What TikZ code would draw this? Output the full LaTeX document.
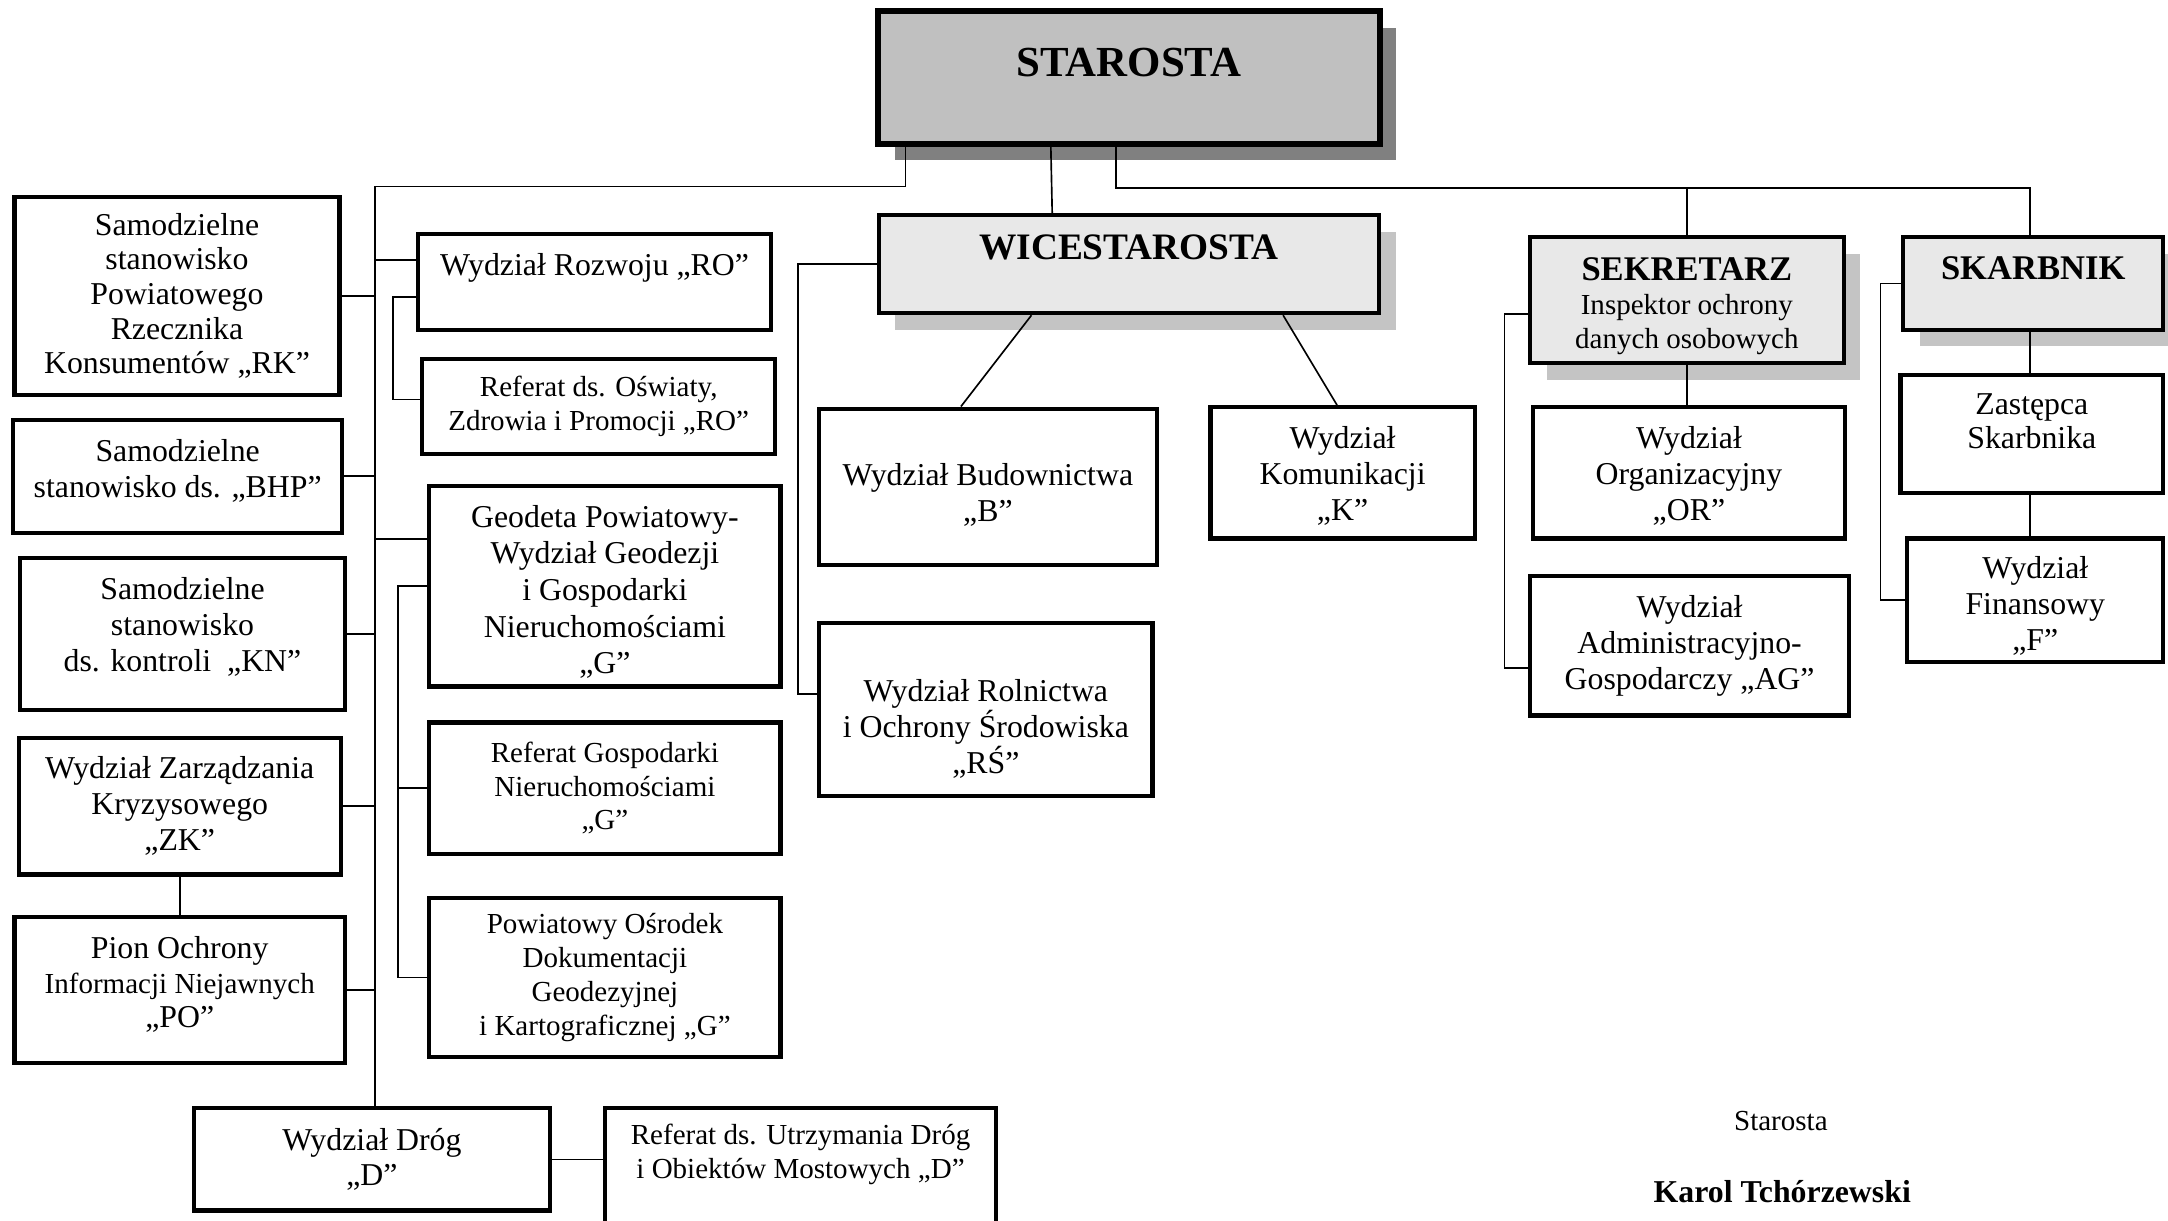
\documentclass[tikz,border=0pt]{standalone}
\usepackage{fontspec}
\setmainfont{Liberation Serif}
\usetikzlibrary{calc, shadows}
\definecolor{topgray}{HTML}{C0C0C0}
\definecolor{boxgray}{HTML}{E8E8E8}
\definecolor{shadowdark}{HTML}{808080}
\definecolor{shadowlight}{HTML}{C4C4C4}
\tikzset{
  unit/.style={draw, line width=3pt, inner sep=0pt, align=center,
    font=\fontsize{23}{26}\selectfont},
  small/.style={font=\fontsize{21}{24.5}\selectfont},
  head/.style={unit, fill=boxgray},
  darkshadow/.style={drop shadow={shadow xshift=12pt, shadow yshift=-12pt,
    fill=shadowdark, opacity=1}},
  lightshadow/.style={drop shadow={shadow xshift=12pt, shadow yshift=-12pt,
    fill=shadowlight, opacity=1}},
  wh/.style 2 args={minimum width=#1pt, minimum height=#2pt},
  link/.style={line width=1.2pt}
}

\begin{document}
\begin{tikzpicture}[x=1pt, y=-1pt]
  \useasboundingbox (0,0) rectangle (1568,883);

  \node[head, fill=topgray, line width=4pt, darkshadow, wh={363}{96},
    font=\fontsize{31}{34}\selectfont\bfseries, text height=20.5pt, text depth=22pt]
    (st) at (816.5,56) {STAROSTA};
  \node[head, lightshadow, wh={362}{71},
    font=\fontsize{27}{30}\selectfont\bfseries, text height=18pt, text depth=24pt]
    (wice) at (816.5,191) {WICESTAROSTA};
  \node[head, small, lightshadow, wh={227}{91}] (sek) at (1220,217)
    {\rule{0pt}{25.5pt}{\fontsize{25}{27}\selectfont\bfseries SEKRETARZ}\\
     Inspektor ochrony\\danych osobowych};
  \node[head, lightshadow, wh={188}{67},
    font=\fontsize{25}{28}\selectfont\bfseries, text height=16.5pt, text depth=22pt]
    (skarb) at (1470.5,205) {SKARBNIK};

  \node[unit, wh={235}{143}, font=\fontsize{23}{25}\selectfont] (rk) at (128,214)
    {Samodzielne\\stanowisko\\Powiatowego\\Rzecznika\\Konsumentów „RK”};
  \node[unit, wh={238}{82}] (bhp) at (128.5,344.5)
    {Samodzielne\\stanowisko ds. „BHP”\rule[-11pt]{0pt}{0pt}};
  \node[unit, wh={235}{110}] (kn) at (132,458.5)
    {Samodzielne\\stanowisko\\ds. kontroli\ \ „KN”\rule[-14pt]{0pt}{0pt}};
  \node[unit, wh={233}{99}] (zk) at (130,583) {Wydział Zarządzania\\Kryzysowego\\„ZK”};
  \node[unit, wh={239}{105}, font=\fontsize{23}{25}\selectfont] (po) at (130,716)
    {Pion Ochrony\\{\fontsize{21}{25}\selectfont Informacji Niejawnych}\\
     „PO”\rule[-11pt]{0pt}{0pt}};

  \node[unit, wh={255}{69}, text height=15pt, text depth=24pt] (ro) at (430,204)
    {Wydział Rozwoju „RO”};
  \node[unit, small, wh={255}{69}] (osw) at (433,294)
    {Referat ds. Oświaty,\\Zdrowia i Promocji „RO”};
  \node[unit, wh={254}{145}, font=\fontsize{23}{26.5}\selectfont] (geo) at (437.5,424)
    {\rule{0pt}{24pt}Geodeta Powiatowy-\\Wydział Geodezji\\i Gospodarki\\
     Nieruchomościami\\„G”};
  \node[unit, small, wh={254}{95}] (rgn) at (437.5,570)
    {Referat Gospodarki\\Nieruchomościami\\„G”};
  \node[unit, small, wh={254}{115}] (podgik) at (437.5,707)
    {Powiatowy Ośrodek\\Dokumentacji\\Geodezyjnej\\i Kartograficznej „G”};
  \node[unit, wh={257}{74}] (drog) at (269,838.5) {Wydział Dróg\\„D”};
  \node[unit, small, wh={283}{89}] (rud) at (579,846)
    {Referat ds. Utrzymania Dróg\\i Obiektów Mostowych „D”\rule[-27pt]{0pt}{0pt}};

  \node[unit, wh={244}{113}] (bud) at (714.5,352)
    {\rule{0pt}{28pt}Wydział Budownictwa\\„B”};
  \node[unit, wh={241}{125}] (rol) at (713,513)
    {\strut\\Wydział Rolnictwa\\i Ochrony Środowiska\\„RŚ”};
  \node[unit, wh={191}{95}] (kom) at (971,342)
    {\rule{0pt}{21pt}Wydział\\Komunikacji\\„K”};
  \node[unit, wh={226}{95}] (org) at (1221.5,342)
    {\rule{0pt}{21pt}Wydział\\Organizacyjny\\„OR”};
  \node[unit, wh={231}{101}] (ag) at (1222,467)
    {Wydział\\Administracyjno-\\Gospodarczy „AG”};
  \node[unit, wh={190}{85}, font=\fontsize{23}{25}\selectfont] (zast) at (1469.5,314)
    {Zastępca\\Skarbnika\rule[-19pt]{0pt}{0pt}};
  \node[unit, wh={185}{89}] (fin) at (1472,434)
    {\rule{0pt}{25pt}Wydział\\Finansowy\\„F”};

  \node[font=\fontsize{21}{24}\selectfont] (sig) at (1288,811) {Starosta};
  \node[font=\fontsize{23}{26}\selectfont\bfseries] (sname) at (1289,862)
    {Karol Tchórzewski};

  \coordinate (trk) at (271,135);
  \coordinate (rt) at (1468,136);
  \path ($(ro.north west)+(0,20)$) coordinate (ro-in)
        ($(geo.north west)+(0,40)$) coordinate (geo-in);

  \draw[link] ($(st.south west)+(22,0)$) |- (trk) -- (trk |- drog.north);
  \draw[link] ($(st.south west)+(127,0)$) -- ($(wice.north west)+(127,0)$);
  \draw[link] ($(st.south west)+(174,0)$) |- (rt) -- (rt |- skarb.north);
  \draw[link] (sek.north) -- (sek.north |- rt);

  \foreach \n in {rk,bhp,kn,zk,po}
    \draw[link] (\n.east) -- (\n.east -| trk);
  \draw[link] (zk.south) -- (po.north);
  \draw[link] (ro-in) -- (ro-in -| trk);
  \draw[link] (geo-in) -- (geo-in -| trk);
  \draw[link] ($(ro.north west)+(0,47)$) -- ++(-17,0) |- ($(osw.north west)+(0,31)$);
  \draw[link] ($(geo.north west)+(0,74)$) -- ++(-21,0) |- ($(podgik.north west)+(0,59)$);
  \draw[link] (rgn.west) -- ++(-21,0);
  \draw[link] (drog.east) -- (drog.east -| rud.west);

  \draw[link] (wice.west) -- ++(-57,0) |- ($(rol.north west)+(0,53)$);
  \draw[link] ($(wice.south west)+(112,0)$) -- ($(bud.north west)+(104,0)$);
  \draw[link] ($(wice.south west)+(294,0)$) -- ($(kom.north west)+(93,0)$);

  \draw[link] (sek.south) -- (sek.south |- org.north);
  \draw[link] ($(sek.north west)+(0,57)$) -- ++(-17,0) |- ($(ag.north west)+(0,68)$);
  \draw[link] (rt |- skarb.south) -- (rt |- zast.north);
  \draw[link] (rt |- zast.south) -- (rt |- fin.north);
  \draw[link] (skarb.west) -- ++(-15,0) |- (fin.west);
\end{tikzpicture}
\end{document}
